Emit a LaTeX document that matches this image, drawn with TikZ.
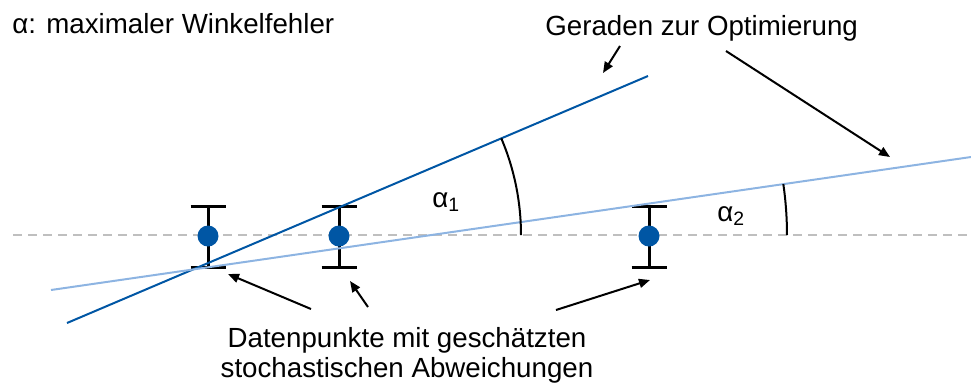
\documentclass[tikz,border=0pt]{standalone}
\usepackage{fontspec}
\setmainfont{Liberation Sans}
\usetikzlibrary{arrows.meta}
\definecolor{dblue}{RGB}{0,86,164}
\definecolor{lblue}{RGB}{141,180,226}
\definecolor{gline}{RGB}{191,191,191}
\begin{document}
\begin{tikzpicture}[x=0.5pt,y=-0.5pt,
  lbl/.style={font=\fontsize{13.85}{15}\selectfont, inner sep=0pt},
  dot/.style={circle, fill=dblue, inner sep=0pt, minimum size=10.5pt},
  bar/.style={line width=1.5pt, black},
  ptr/.style={line width=1pt, black, -{Triangle[length=5.5pt,width=4.5pt]}},
  fitline/.style={line width=1pt},
  anglearc/.style={line width=1pt, black}]
\useasboundingbox (0,0) rectangle (971,382);

% texts
\node[lbl, anchor=base west] (legend) at (12,33) {α: maximaler Winkelfehler};
\node[lbl, anchor=base west] (geraden) at (545,35) {Geraden zur Optimierung};
\node[lbl, anchor=base, align=center] (daten) at (407,377) {Datenpunkte mit geschätzten\\stochastischen Abweichungen};

% dashed reference line
\coordinate (r0) at (13,235);
\coordinate (r1) at (971,235);
\draw[gline, line width=1pt, dash pattern=on 4.5pt off 3pt] (r0) -- (r1);

% error bars
\foreach \n/\x in {1/208,2/339,3/649}{
  \coordinate (t\n) at (\x,206);
  \coordinate (u\n) at (\x,267);
  \draw[bar] (t\n) -- (u\n);
  \draw[bar] ([xshift=-8.75pt]t\n) -- ([xshift=8.75pt]t\n);
  \draw[bar] ([xshift=-8.75pt]u\n) -- ([xshift=8.75pt]u\n);
}

% fit lines
\coordinate (d0) at (67,323);
\coordinate (d1) at (648,76);
\coordinate (l0) at (51,290);
\coordinate (l1) at (971,157);
\draw[fitline, dblue] (d0) -- (d1);
\draw[fitline, lblue] (l0) -- (l1);

% data points
\node[dot] (p1) at (208,236) {};
\node[dot] (p2) at (339,236) {};
\node[dot] (p3) at (649,236) {};

% angle arcs
\draw[anglearc] plot[domain=0:23.04, samples=40] ({274+247*cos(\x)},{235-247*sin(\x)});
\draw[anglearc] plot[domain=0:8.23, samples=30] ({431+356*cos(\x)},{235-356*sin(\x)});
\node[lbl, anchor=base west] (a1) at (432,207) {α\textsubscript{1}};
\node[lbl, anchor=base west] (a2) at (717,221) {α\textsubscript{2}};

% pointer arrows
\coordinate (g1s) at (620,46);
\coordinate (g1e) at (603,73);
\coordinate (g2s) at (726,51);
\coordinate (g2e) at (890,157);
\draw[ptr] (g1s) -- (g1e);
\draw[ptr] (g2s) -- (g2e);

\coordinate (s1) at (311,309);
\coordinate (e1) at (228,274);
\coordinate (s2) at (368,307);
\coordinate (e2) at (350,281);
\coordinate (s3) at (556,310);
\coordinate (e3) at (650,280);
\draw[ptr] (s1) -- (e1);
\draw[ptr] (s2) -- (e2);
\draw[ptr] (s3) -- (e3);
\end{tikzpicture}
\end{document}
